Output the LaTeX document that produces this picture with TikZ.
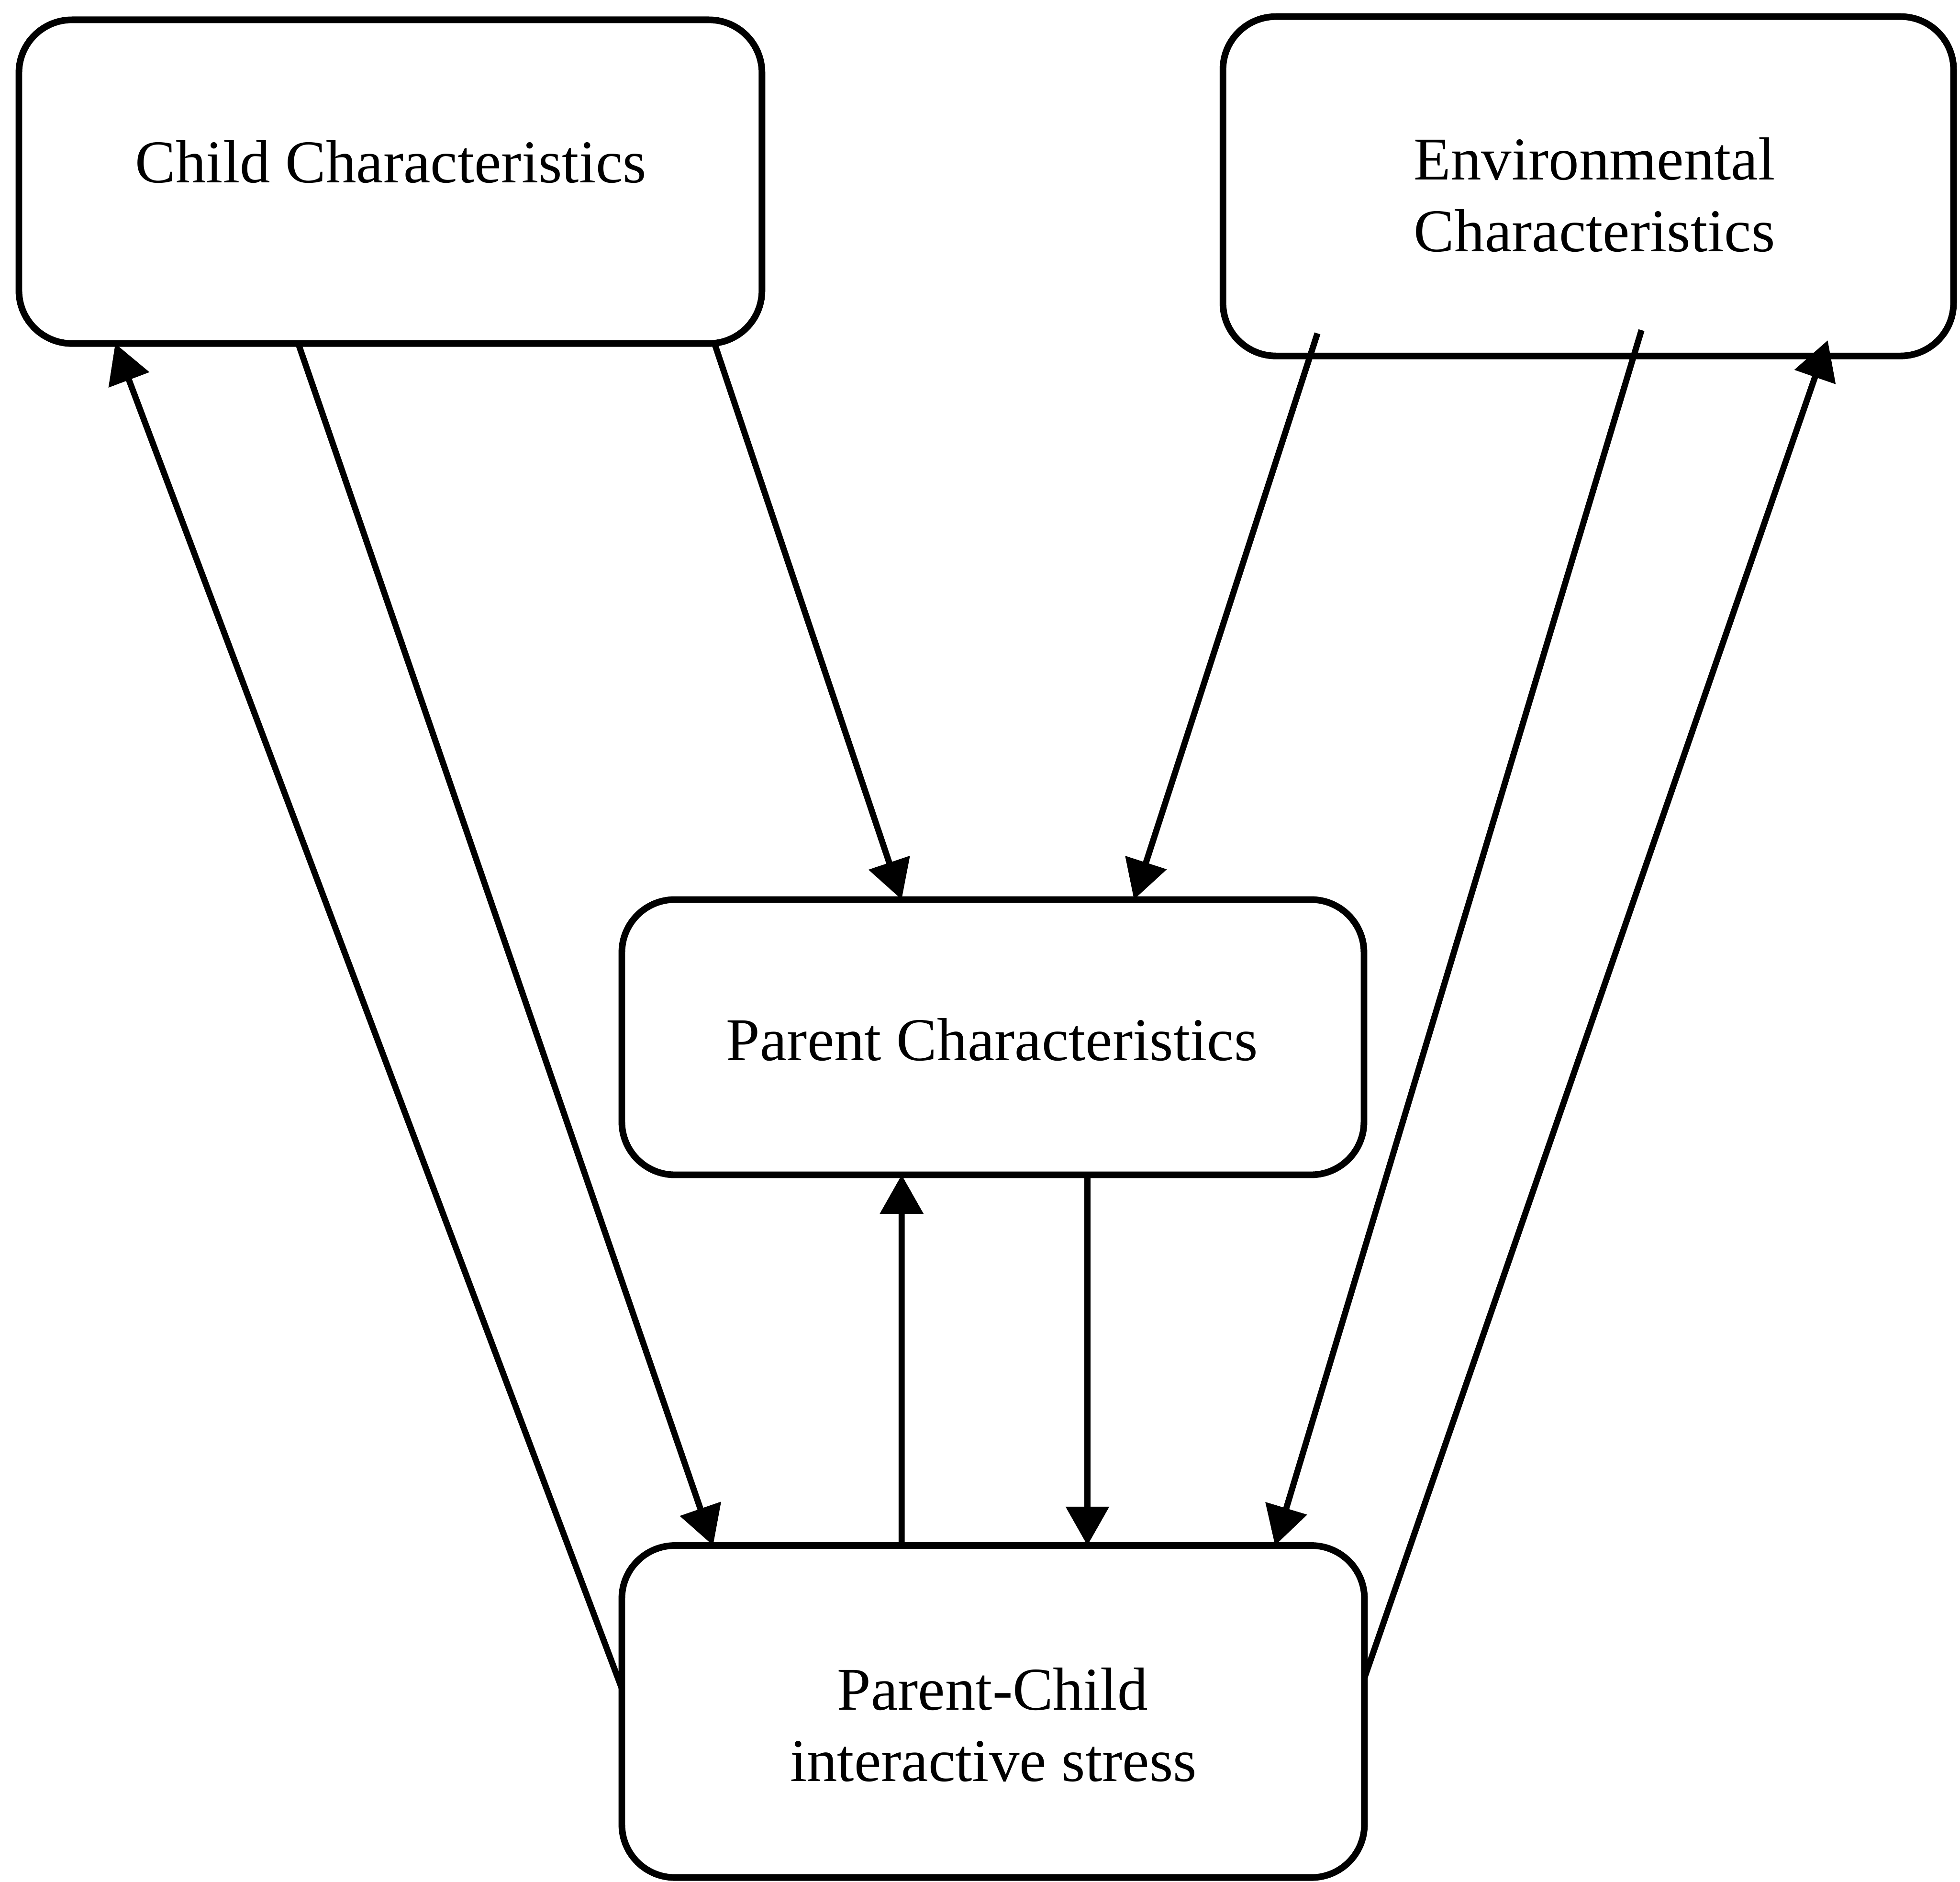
\documentclass[tikz,border=0pt]{standalone}
\usepackage{fontspec}
\setmainfont{Liberation Serif}
\usetikzlibrary{arrows.meta}
\begin{document}
\begin{tikzpicture}[x=1cm,y=1cm,
  box/.style={draw=black, line width=4.1pt, rounded corners=1.15cm, inner sep=0pt, outer sep=0pt},
  lbl/.style={inner sep=0pt, outer sep=0pt, anchor=base, font=\fontsize{37.5}{44}\selectfont},
  conn/.style={line width=3.8pt, -{Triangle[length=24pt,width=26pt]}}
]
\useasboundingbox (0,0) rectangle (42.52,-40.81);
\fill[white] (0,0) rectangle (42.52,-40.81);

\node[box, minimum width=16.12cm, minimum height=7.02cm] (child) at (8.47,-3.94) {};
\node[box, minimum width=15.85cm, minimum height=7.36cm] (env) at (34.455,-4.04) {};
\node[box, minimum width=16.10cm, minimum height=5.97cm] (parent) at (21.54,-22.495) {};
\node[box, minimum width=16.11cm, minimum height=7.20cm] (pc) at (21.545,-37.12) {};

\node[lbl] (childtxt) at (8.48,-3.96) {Child Characteristics};
\node[lbl] (envtxtA) at (34.59,-3.90) {Environmental};
\node[lbl] (envtxtB) at (34.59,-5.45) {Characteristics};
\node[lbl] (parenttxt) at (21.52,-23.00) {Parent Characteristics};
\node[lbl] (pctxtA) at (21.53,-37.09) {Parent-Child};
\node[lbl] (pctxtB) at (21.55,-38.63) {interactive stress};

\draw[conn] ([yshift=0.5cm]pc.west) -- ([xshift=2.09cm]child.south west);
\draw[conn] ([xshift=6.06cm]child.south west) -- ([xshift=1.98cm]pc.north west);
\draw[conn] ([xshift=15.09cm]child.south west) -- ([xshift=6.07cm]parent.north west);
\draw[conn] ([shift={(2.05cm,0.49cm)}]env.south west) -- ([xshift=11.11cm]parent.north west);
\draw[conn] ([shift={(9.08cm,0.56cm)}]env.south west) -- ([xshift=14.17cm]pc.north west);
\draw[conn] ([yshift=0.73cm]pc.east) -- ([shift={(13.12cm,0.34cm)}]env.south west);
\draw[conn] ([xshift=6.07cm]pc.north west) -- ([xshift=6.07cm]parent.south west);
\draw[conn] ([xshift=10.1cm]parent.south west) -- ([xshift=10.1cm]pc.north west);
\end{tikzpicture}
\end{document}
